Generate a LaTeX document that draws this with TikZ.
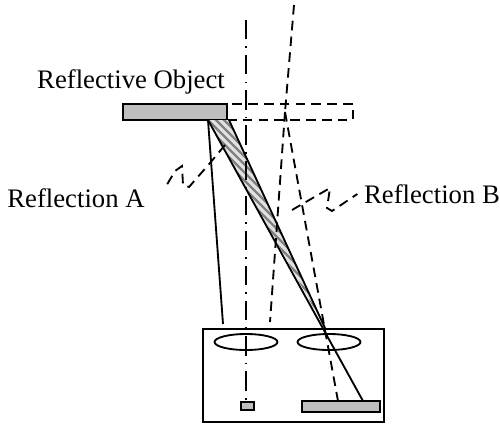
\documentclass[tikz,border=0pt]{standalone}
\usepackage{fontspec}
\setmainfont{Liberation Serif}
\usepackage{xcolor}
\usetikzlibrary{shapes.geometric, positioning}
\definecolor{platecolor}{RGB}{190,190,190}
\begin{document}
\begin{tikzpicture}[
    x=0.02cm, y=-0.02cm,
    line width=1.05pt,
    platebox/.style={draw, fill=platecolor, inner sep=0pt},
    ghostbox/.style={draw, dash pattern=on 5.5pt off 3.5pt, inner sep=0pt},
    lens/.style={draw, ellipse, inner sep=0pt, minimum width=1.26cm, minimum height=0.32cm},
    ray/.style={dash pattern=on 5.5pt off 3.5pt},
    axisline/.style={line width=0.9pt, dash pattern=on 11pt off 4pt on 1pt off 4pt},
    every node/.style={font=\fontsize{15.2}{18}\selectfont},
]
    \useasboundingbox (0,0) rectangle (500,424);

    % Reflective object and its mirror image
    \node[platebox, minimum width=2.08cm, minimum height=0.32cm] (object) at (175,112) {};
    \node[ghostbox, minimum width=2.52cm, minimum height=0.32cm] (image) at (290,112) {};
    \node (objlabel) at (131,82) {Reflective Object};

    % Housing
    \node[draw, inner sep=0pt, minimum width=3.62cm, minimum height=1.86cm] (housing) at (293.5,375.5) {};
    \node[lens] (lensA) at (246,342) {};
    \node[lens] (lensB) at (329,342) {};
    \node[platebox, minimum width=0.26cm, minimum height=0.16cm] (sensorA) at (247.5,406) {};
    \node[platebox, minimum width=1.56cm, minimum height=0.22cm] (sensorB) at (341,406.5) {};

    \coordinate (axistop) at (246,20);
    \coordinate (axisend) at (246,402);
    \coordinate (apex) at (285,112);
    \coordinate (raytop) at (294,5);
    \coordinate (rayleft) at (270,322);
    \coordinate (rayright) at (338,401);
    \coordinate (hitL) at (208,120);
    \coordinate (hitR) at (229,120);
    \coordinate (focus) at (325,328);
    \coordinate (rayA) at (223,324);
    \coordinate (rayB) at (363,401);

    % Reflection band
    \begin{scope}
        \clip (hitL) -- (hitR) -- (focus) -- cycle;
        \fill[platecolor!45] (200,115) rectangle (330,330);
        \foreach \s in {-90,-82,...,310}
            \draw[black!50, line width=1.3pt] (190,\s) -- (340,\s+150);
    \end{scope}

    % Rays
    \draw[axisline] (axistop) -- (axisend);
    \draw[ray] (raytop) -- (apex);
    \draw[ray] (apex) -- (rayleft);
    \draw[ray] (apex) -- (rayright);
    \draw (hitL) -- (rayA);
    \draw (hitL) -- (rayB);
    \draw (hitR) -- (focus);

    % Labels with their squiggles
    \node (labelA) at (76,198) {Reflection A};
    \node (labelB) at (432,194) {Reflection B};
    \coordinate (wigA) at (225,145);
    \coordinate (wigB) at (292,210);
    \draw[ray] (wigA) -- (210,163) -- (189,187) -- (183,185) -- (182,166) -- (175,171) -- (165,188);
    \draw[ray] (wigB) -- (330,188) -- (327,208) -- (332,211) -- (labelB.west);
\end{tikzpicture}
\end{document}
